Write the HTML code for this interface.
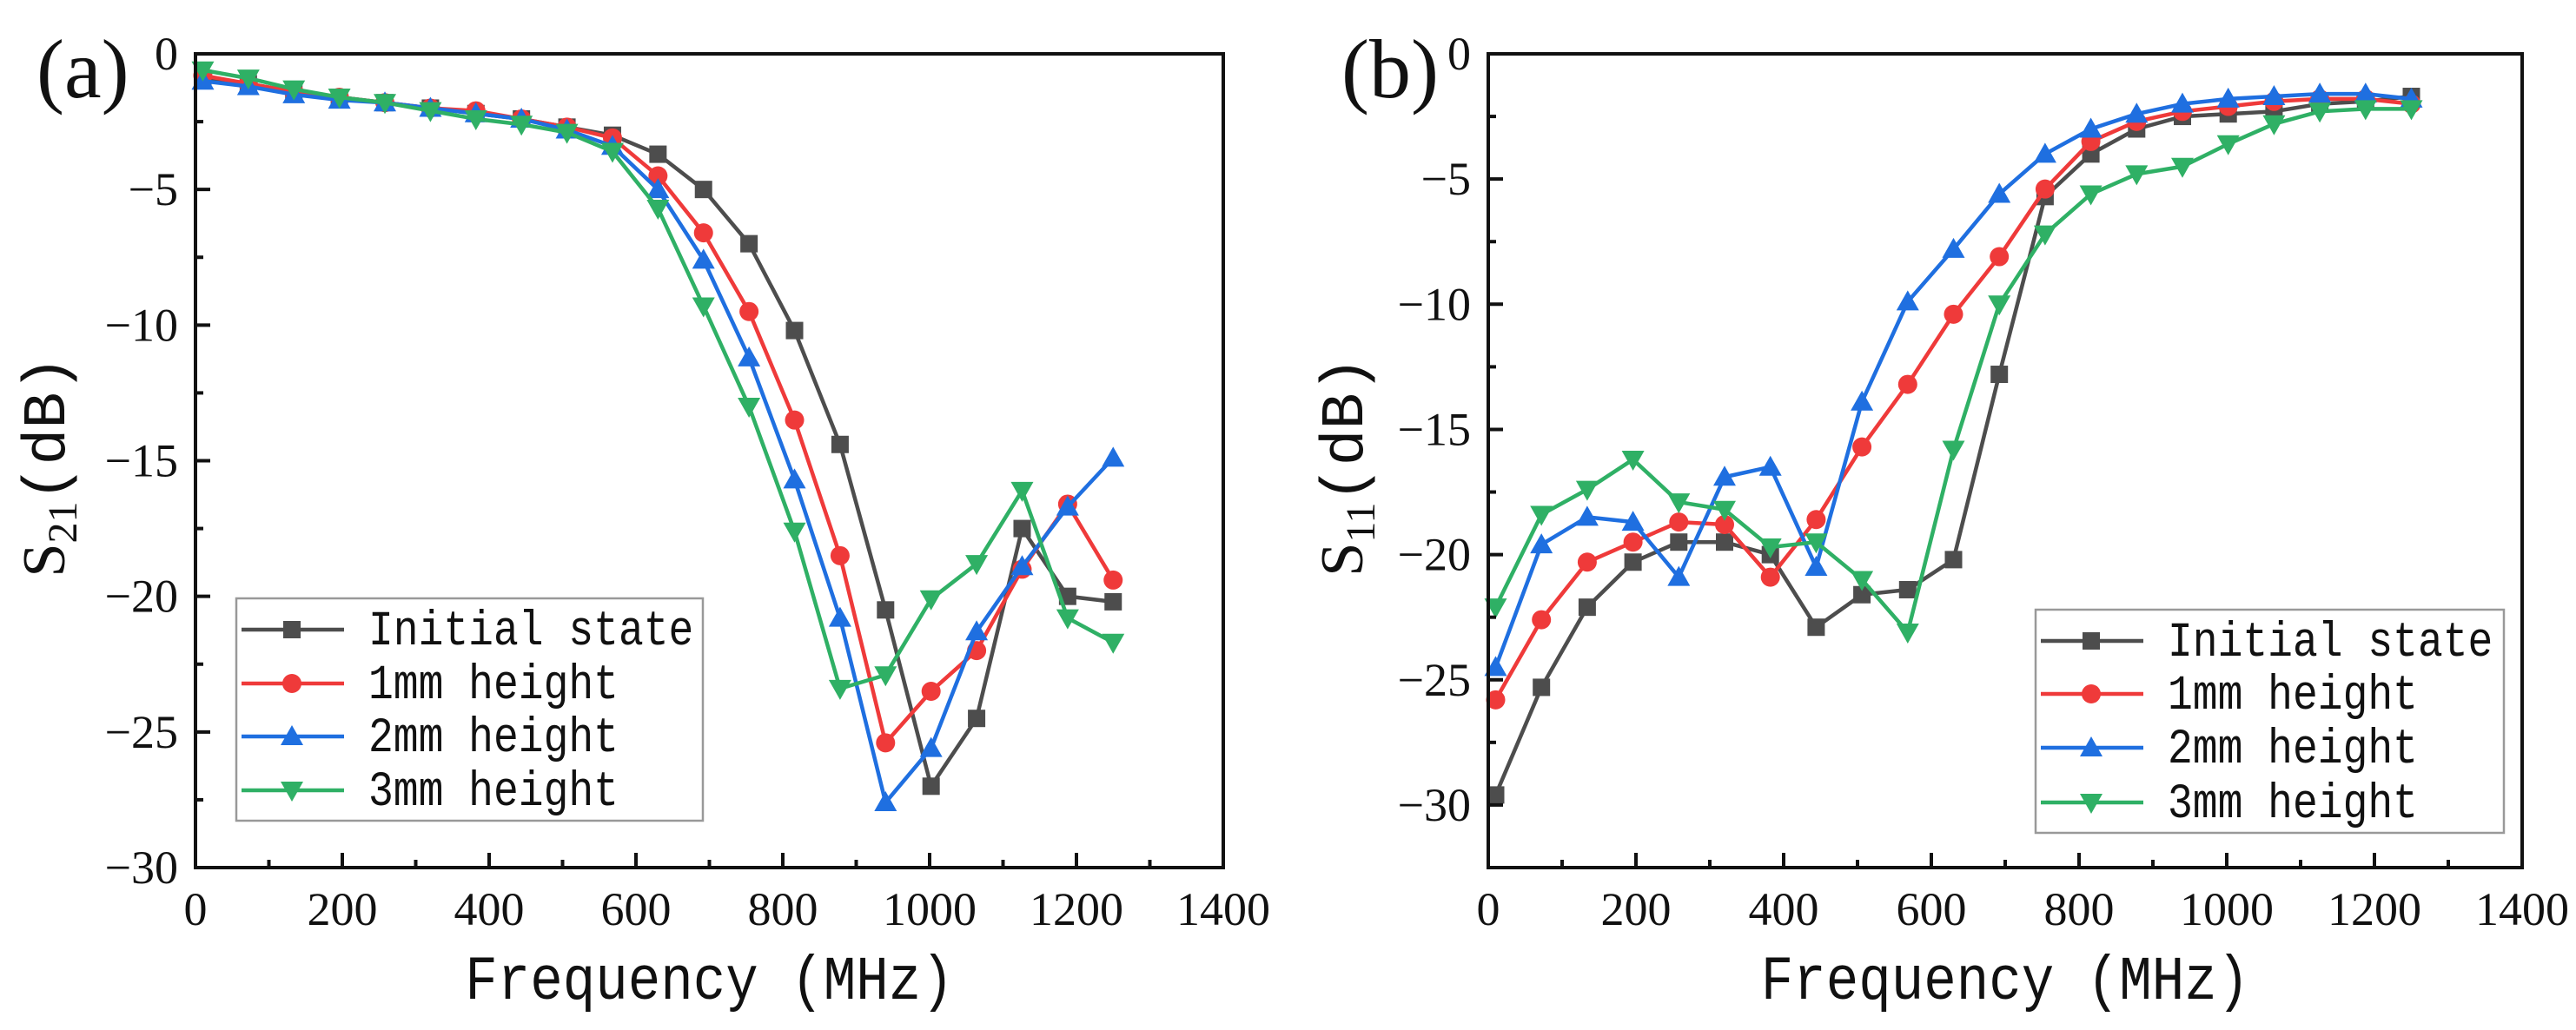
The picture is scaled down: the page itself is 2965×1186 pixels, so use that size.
<!DOCTYPE html>
<html><head><meta charset="utf-8">
<style>
html,body{margin:0;padding:0;background:#fff;}
svg{display:block;}
</style></head>
<body>
<svg id="fig" width="2965" height="1186" viewBox="0 0 2965 1186" xmlns="http://www.w3.org/2000/svg"></svg>
<script>
const freqs=[10,72,134,196,258,320,382,444,506,568,630,692,754,816,878,940,1002,1064,1126,1188,1250];
const seriesNames=["Initial state","1mm height","2mm height","3mm height"];
const aInitial=[-0.9,-1.1,-1.4,-1.6,-1.8,-2.0,-2.2,-2.4,-2.7,-3.0,-3.7,-5.0,-7.0,-10.2,-14.4,-20.5,-27.0,-24.5,-17.5,-20.0,-20.2];
const a1mm=[-0.8,-1.1,-1.4,-1.6,-1.8,-2.0,-2.1,-2.4,-2.7,-3.1,-4.5,-6.6,-9.5,-13.5,-18.5,-25.4,-23.5,-22.0,-19.0,-16.6,-19.4];
const a2mm=[-1.0,-1.2,-1.5,-1.7,-1.8,-2.0,-2.2,-2.4,-2.8,-3.4,-5.0,-7.6,-11.2,-15.7,-20.8,-27.6,-25.6,-21.3,-18.9,-16.7,-14.9];
const a3mm=[-0.6,-0.9,-1.3,-1.6,-1.8,-2.1,-2.4,-2.6,-2.9,-3.6,-5.7,-9.3,-13.0,-17.6,-23.4,-22.9,-20.1,-18.8,-16.1,-20.8,-21.7];
const bInitial=[-29.6,-25.3,-22.1,-20.3,-19.5,-19.5,-20.0,-22.9,-21.6,-21.4,-20.2,-12.8,-5.7,-4.0,-3.0,-2.5,-2.4,-2.3,-2.0,-1.9,-1.7];
const b1mm=[-25.8,-22.6,-20.3,-19.5,-18.7,-18.8,-20.9,-18.6,-15.7,-13.2,-10.4,-8.1,-5.4,-3.5,-2.7,-2.3,-2.1,-1.9,-1.8,-1.8,-2.0];
const b2mm=[-24.5,-19.6,-18.5,-18.7,-20.9,-16.9,-16.5,-20.5,-13.9,-9.9,-7.8,-5.6,-4.0,-3.0,-2.4,-2.0,-1.8,-1.7,-1.6,-1.6,-1.8];
const b3mm=[-22.1,-18.4,-17.4,-16.2,-17.9,-18.2,-19.7,-19.5,-21.0,-23.1,-15.8,-10.0,-7.2,-5.6,-4.8,-4.5,-3.6,-2.8,-2.3,-2.2,-2.2];
const xTicks=[0,200,400,600,800,1000,1200,1400];
const yTicksA=[0,-5,-10,-15,-20,-25,-30];
const yTicksB=[0,-5,-10,-15,-20,-25,-30];

const colors=["#4d4d4d","#ef3a3a","#1f6fe0","#2fb065"];
const markers=["square","circle","triangle","down"];
const NS="http://www.w3.org/2000/svg";
const SERIF='"Liberation Serif", serif';
const MONO='"Liberation Mono", monospace';
const svg=document.getElementById('fig');
function mk(tag,attrs,parent){const e=document.createElementNS(NS,tag);for(const k in attrs)e.setAttribute(k,attrs[k]);(parent||svg).appendChild(e);return e;}

function marker(g,type,x,y,c){
  let e;
  if(type==="square"){e=mk('rect',{x:x-10,y:y-10,width:20,height:20,fill:c},g);}
  else if(type==="circle"){e=mk('circle',{cx:x,cy:y,r:11,fill:c},g);}
  else if(type==="triangle"){e=mk('polygon',{points:`${x},${y-13} ${x-13},${y+10} ${x+13},${y+10}`,fill:c},g);}
  else {e=mk('polygon',{points:`${x},${y+13} ${x-13},${y-10} ${x+13},${y-10}`,fill:c},g);}
  return e;
}

function panel(cfg){
  const {L,R,T,B,ymin,series,yTicks,id,label,labelX,ylabX,sub,leg}=cfg;
  const g=mk('g',{});
  
  
  const X=v=>L+(v-0)/(1400-0)*(R-L);
  const Y=v=>T+(0-v)/(0-ymin)*(B-T);
  series.forEach((s,si)=>{
    const sg=mk('g',{},g);
    
    
    const pts=freqs.map((f,i)=>X(f)+','+Y(s[i])).join(' ');
    const pl=mk('polyline',{points:pts,fill:'none',stroke:colors[si],'stroke-width':4.5,'stroke-linejoin':'round'},sg);
    
    
    freqs.forEach((f,i)=>{
      const m=marker(sg,markers[si],X(f),Y(s[i]),colors[si]);
      
      
    });
  });
  const fr=mk('rect',{x:L,y:T,width:R-L,height:B-T,fill:'none',stroke:'#111','stroke-width':4},g);
  
  
  xTicks.forEach(v=>{
    const x=X(v);
    const t=mk('line',{x1:x,y1:B,x2:x,y2:B-17,stroke:'#111','stroke-width':4},g);
    
    
    const tx=mk('text',{x:x,y:B+66,'text-anchor':'middle','font-family':SERIF,'font-size':54,fill:'#111'},g);
    tx.textContent=v;
    
    
    if(v<1400){const mx=X(v+100);
      const m=mk('line',{x1:mx,y1:B,x2:mx,y2:B-9,stroke:'#111','stroke-width':4},g);
      
      }
  });
  yTicks.forEach(v=>{
    const y=Y(v);
    const t=mk('line',{x1:L,y1:y,x2:L+17,y2:y,stroke:'#111','stroke-width':4},g);
    
    
    const tx=mk('text',{x:L-20,y:y+18,'text-anchor':'end','font-family':SERIF,'font-size':54,fill:'#111'},g);
    tx.textContent=(v<0?'\u2212'+(-v):v);
    
    
    const mv=v-2.5;
    if(mv>=ymin){const m=mk('line',{x1:L,y1:Y(mv),x2:L+9,y2:Y(mv),stroke:'#111','stroke-width':4},g);
      
      }
  });
  const xt=mk('text',{x:(L+R)/2,y:1150,'text-anchor':'middle','font-family':MONO,'font-size':62.5,fill:'#111',transform:`translate(0,${-1150*0.15}) scale(1,1.15)`},g);
  xt.textContent='Frequency (MHz)';
  
  
  const yt=mk('text',{x:0,y:0,'text-anchor':'middle',transform:`translate(${ylabX},537) rotate(-90)`,'font-size':70,fill:'#111'},g);
  
  
  const s1=mk('tspan',{'font-family':SERIF},yt);s1.textContent='S';
  const s2=mk('tspan',{'font-family':SERIF,'font-size':48,dy:14},yt);s2.textContent=sub;
  const s3=mk('tspan',{'font-family':MONO,dy:-14},yt);s3.textContent='(dB)';
  const pl=mk('text',{x:labelX,y:112,'font-family':SERIF,'font-size':96,fill:'#111'},g);
  pl.textContent=label;
  
  
  const lg=mk('g',{},g);
  
  
  const lb=mk('rect',{x:leg.x,y:leg.y,width:leg.w,height:leg.h,fill:'#fff',stroke:'#999','stroke-width':2.5},lg);
  
  
  seriesNames.forEach((n,i)=>{
    const ry=leg.rows[i];
    const e=mk('g',{},lg);
    
    
    mk('line',{x1:leg.x+6,y1:ry,x2:leg.x+124,y2:ry,stroke:colors[i],'stroke-width':4.5},e);
    marker(e,markers[i],leg.x+64,ry,colors[i]);
    const t=mk('text',{x:leg.x+152,y:ry+17,'font-family':MONO,'font-size':48,fill:'#111',transform:`translate(0,${-(ry+17)*0.18}) scale(1,1.18)`},e);
    t.textContent=n;
  });
}

panel({L:225,R:1408,T:62,B:999,ymin:-30,series:[aInitial,a1mm,a2mm,a3mm],yTicks:yTicksA,id:'s21',label:'(a)',labelX:42,ylabX:74,sub:'21',
  leg:{x:272,y:689,w:537,h:256,rows:[725,787,848,910]}});
panel({L:1713,R:2903,T:62,B:999,ymin:-32.5,series:[bInitial,b1mm,b2mm,b3mm],yTicks:yTicksB,id:'s11',label:'(b)',labelX:1544,ylabX:1568,sub:'11',
  leg:{x:2343,y:702,w:539,h:257,rows:[738,799,861,924]}});
</script>
</body></html>
